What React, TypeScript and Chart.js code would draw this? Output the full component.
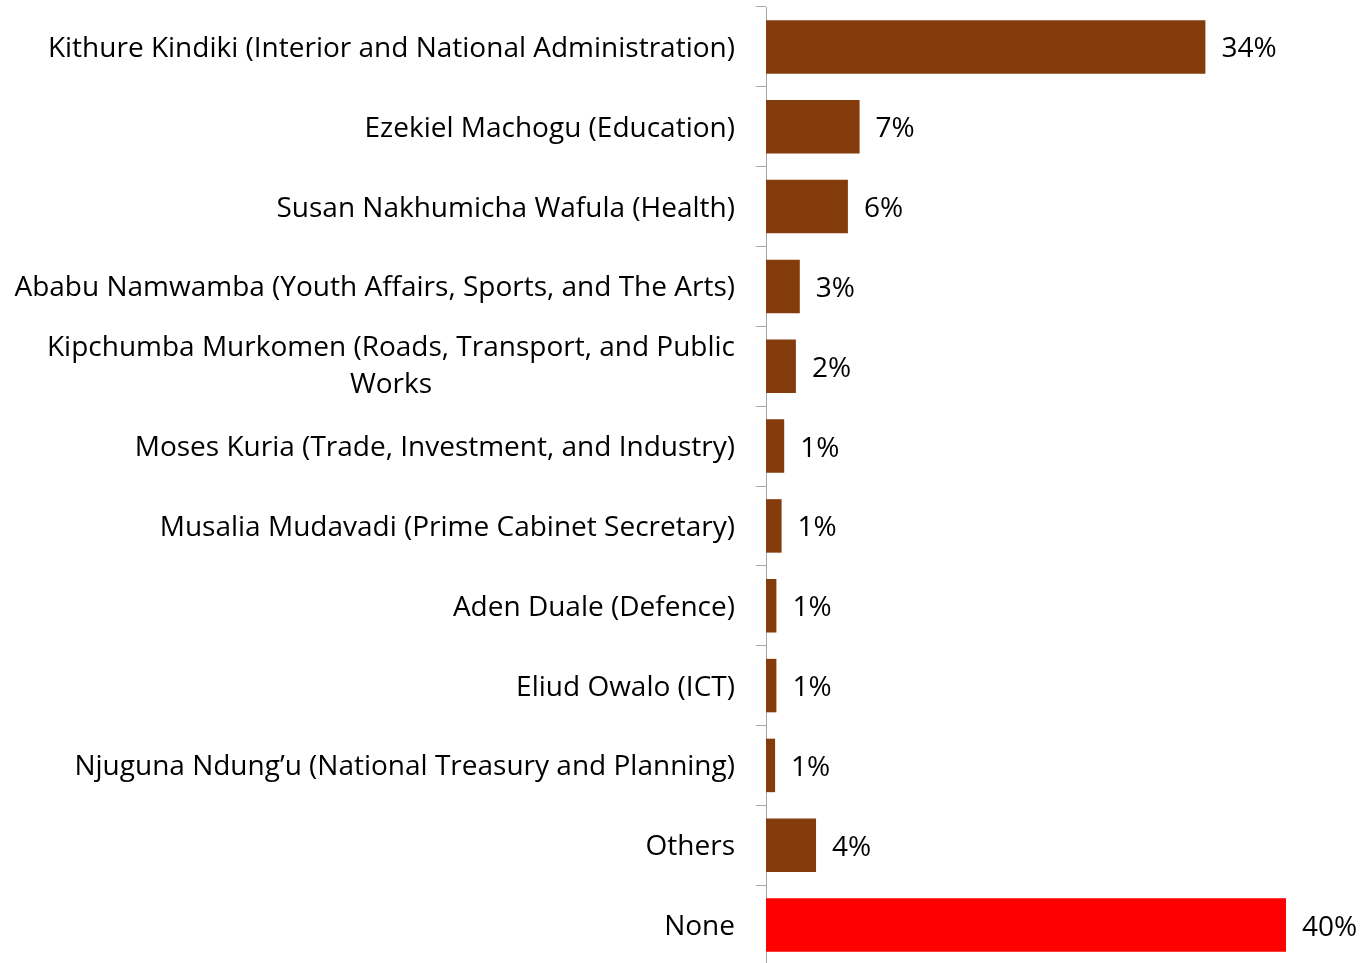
import { useEffect, useRef } from "react";
import { Chart, registerables } from "chart.js";

Chart.register(...registerables);

const categories: string[][] = [
  ["Kithure Kindiki (Interior and National Administration)"],
  ["Ezekiel Machogu (Education)"],
  ["Susan Nakhumicha Wafula (Health)"],
  ["Ababu Namwamba (Youth Affairs, Sports, and The Arts)"],
  ["Kipchumba Murkomen (Roads, Transport, and Public", "Works"],
  ["Moses Kuria (Trade, Investment, and Industry)"],
  ["Musalia Mudavadi (Prime Cabinet Secretary)"],
  ["Aden Duale (Defence)"],
  ["Eliud Owalo (ICT)"],
  ["Njuguna Ndung\u2019u (National Treasury and Planning)"],
  ["Others"],
  ["None"],
];

const values: number[] = [33.8, 7.2, 6.3, 2.6, 2.3, 1.4, 1.2, 0.8, 0.8, 0.7, 3.85, 40.0];

const valueLabels: string[] = ["34%", "7%", "6%", "3%", "2%", "1%", "1%", "1%", "1%", "1%", "4%", "40%"];

const highlightCategory = "None";

const BROWN = "#843C0C";
const RED = "#FF0000";
const AXIS_GREY = "#A6A6A6";
const FONT_FAMILY = "'Open Sans', Lato, sans-serif";
const FONT_SIZE = 28;

export default function App() {
  const canvasRef = useRef<HTMLCanvasElement | null>(null);

  useEffect(() => {
    const canvas = canvasRef.current;
    if (!canvas) return;

    const labelPlugin = {
      id: "customLabels",
      afterDatasetsDraw(chart: any) {
        const ctx = chart.ctx as CanvasRenderingContext2D;
        const yScale = chart.scales.y;
        ctx.save();
        ctx.font = `${FONT_SIZE}px ${FONT_FAMILY}`;
        ctx.fillStyle = "#000000";
        ctx.textBaseline = "alphabetic";
        const right = yScale.right - 31;
        const lineHeight = 36.5;
        categories.forEach((lines, i) => {
          const cy = yScale.getPixelForValue(i);
          const blockW = Math.max(...lines.map((l) => ctx.measureText(l).width));
          const baseOffset = lines.length > 1 ? 8 : 10;
          lines.forEach((line, j) => {
            const ly = cy + baseOffset + (j - (lines.length - 1) / 2) * lineHeight;
            if (lines.length > 1) {
              ctx.textAlign = "center";
              ctx.fillText(line, right - blockW / 2, ly);
            } else {
              ctx.textAlign = "right";
              ctx.fillText(line, right, ly);
            }
          });
        });
        const meta = chart.getDatasetMeta(0);
        ctx.textAlign = "left";
        meta.data.forEach((bar: any, i: number) => {
          ctx.fillText(valueLabels[i], bar.x + 16, bar.y + 10.5);
        });
        ctx.restore();
      },
    };

    const chart = new Chart(canvas, {
      type: "bar",
      data: {
        labels: categories.map((c) => c.join(" ")),
        datasets: [
          {
            data: values,
            backgroundColor: categories.map((c) =>
              c[0] === highlightCategory ? RED : BROWN
            ),
            borderWidth: 0,
            categoryPercentage: 1,
            barPercentage: 0.67,
          },
        ],
      },
      options: {
        indexAxis: "y",
        animation: false,
        responsive: false,
        maintainAspectRatio: false,
        layout: { padding: { top: 7, bottom: 1, left: 0, right: 10 } },
        plugins: {
          legend: { display: false },
          tooltip: { enabled: false },
          title: { display: false },
        },
        scales: {
          x: {
            display: false,
            min: 0,
            max: 45,
          },
          y: {
            type: "category",
            offset: true,
            afterFit: (scale: any) => {
              scale.width = 766;
            },
            ticks: { display: false },
            grid: {
              offset: true,
              drawOnChartArea: false,
              drawTicks: true,
              tickLength: 10,
              color: AXIS_GREY,
              lineWidth: 1,
            },
            border: { display: true, color: AXIS_GREY, width: 1 },
          },
        },
      },
      plugins: [labelPlugin],
    } as any);

    return () => {
      chart.destroy();
    };
  }, []);

  return (
    <div
      style={{
        position: "fixed",
        top: 0,
        left: 0,
        width: 1361,
        height: 963,
        overflow: "hidden",
        background: "#ffffff",
      }}
    >
      <canvas ref={canvasRef} width={1361} height={966} style={{ display: "block" }} />
    </div>
  );
}
